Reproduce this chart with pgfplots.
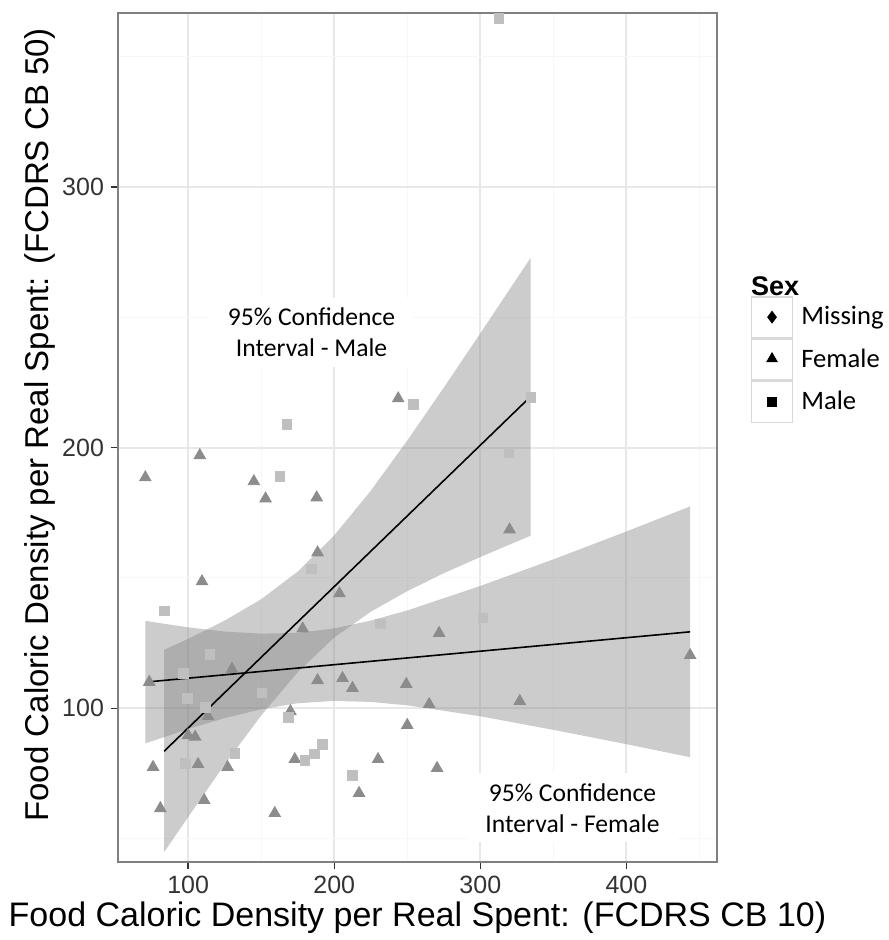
\documentclass[border=0pt]{standalone}
\usepackage{fontspec}
\setmainfont{Liberation Sans}
\newfontfamily\calibri{Carlito}
\usepackage{pgfplots}
\pgfplotsset{compat=1.18}

% female = triangles, male = squares
\pgfplotstableread{
x y
108 197
70.7 188.5
145 187
153 180.4
188 180.8
188.6 159.7
109.5 148.6
203.6 144
178.4 130.5
130 115
73.4 110
188.6 110.7
205.7 111.5
212.5 107.7
113.6 96.9
170 98.8
100 89.6
104.8 89
173 80.4
106.8 78.5
76 77.4
127 77.4
217 67.4
111 64.7
81 61.6
159.3 59.7
243.8 218.8
320 168.5
271.8 128.8
249.3 109.2
265 101.5
327 102.7
250 93.5
230 80.4
270.4 77
443.6 120.3
}\female

\pgfplotstableread{
x y
167.5 208.8
162.7 189
184.5 153.5
83.6 137.4
115 120.7
96.6 113.4
99.3 103.8
150.4 105.8
112 100.4
168.8 96.5
132 82.7
180 80
186.6 82.4
192 86
98 78.9
212.5 74.3
254 216.5
334.5 219.2
319.5 198
231.6 132.4
301.8 134.7
312.7 364.7
}\male

\begin{document}
\begin{tikzpicture}
\begin{axis}[
  name=ax,
  scale only axis,
  width=299.5pt, height=424.5pt,
  xmin=52, xmax=462, ymin=41, ymax=366.7,
  xtick={100,200,300,400}, ytick={100,200,300},
  minor xtick={50,150,250,350,450}, minor ytick={50,150,250,350},
  grid=both,
  major grid style={color=black!9, line width=1pt},
  minor grid style={color=black!3, line width=0.6pt},
  axis line style={color=black!50, line width=1pt},
  tick align=outside, tick pos=left,
  major tick length=3.5pt, minor tick length=0pt,
  tick style={color=black!80, line width=0.7pt},
  /pgf/number format/assume math mode=true,
  ticklabel style={font=\fontsize{12.5}{15}\selectfont, text=black!80},
  xlabel={Food Caloric Density per Real Spent: (FCDRS CB 10)},
  ylabel={Food Caloric Density per Real Spent: (FCDRS CB 50)},
  xlabel style={at={(axis description cs:0.5,-0.066)}, anchor=center,
    font=\fontsize{17}{20}\selectfont},
  ylabel style={at={(axis description cs:-0.1302,0.515)}, anchor=center,
    font=\fontsize{16.5}{20}\selectfont},
  legend style={at={(axis description cs:1.0563,0.6667)}, anchor=north west,
    draw=none, fill=none, inner sep=0pt, outer sep=0pt, row sep=0pt, column sep=4pt,
    nodes={inner sep=0pt}, font=\calibri\fontsize{13.3}{16}\selectfont},
  legend cell align=left,
]
% points (under the bands, so the bands darken them)
\addplot[only marks, mark=triangle*, mark size=3.3pt, color=black!45,
  mark options={draw=black!45, fill=black!45}, forget plot] table {\female};
\addplot[only marks, mark=square*, mark size=2.4pt, color=black!25,
  mark options={draw=black!25, fill=black!25}, forget plot] table {\male};
% confidence bands
\addplot[draw=none, fill=gray, fill opacity=0.4, forget plot] coordinates {
(70.7,133.5) (100,131.0) (125,129.4) (150,128.6) (175,128.9) (200,130.6) (225,133.6)
(250,137.5) (300,146.9) (350,157.1) (400,167.8) (443.6,177.4)
(443.6,81.2) (400,86.2) (350,91.7) (300,96.9) (250,101.1) (225,102.4) (200,102.8)
(175,101.9) (150,99.6) (125,96.2) (100,92.0) (70.7,86.5)};
\addplot[draw=none, fill=gray, fill opacity=0.4, forget plot] coordinates {
(83.6,122.4) (100,126.6) (125,133.6) (150,141.8) (175,152.4) (200,166.3) (225,183.4)
(250,202.7) (275,223.0) (300,243.8) (334.5,272.8)
(334.5,166.2) (300,158.0) (275,151.8) (250,144.9) (225,137.0) (200,127.1)
(175,113.8) (150,97.2) (125,78.4) (100,58.2) (83.6,44.8)};
% fitted lines
\addplot[black, line width=0.8pt, forget plot] coordinates {(83.6,83.5) (334.5,219.6)};
\addplot[black, line width=0.8pt, forget plot] coordinates {(70.7,110.0) (443.6,129.3)};

\node[fill=white, align=center, inner xsep=9pt, inner ysep=5pt,
  font=\calibri\fontsize{12.8}{15.5}\selectfont] at (axis cs:184.5,244.1)
  {95\% Confidence\\Interval - Male};
\node[fill=white, align=center, inner xsep=9pt, inner ysep=5pt,
  font=\calibri\fontsize{12.8}{15.5}\selectfont] at (axis cs:363.1,61.8)
  {95\% Confidence\\Interval - Female};

% legend
\addlegendimage{legend image code/.code={
  \draw[black!15, line width=0.8pt, fill=white] (0pt,-10.2pt) rectangle (20.5pt,10.2pt);
  \draw[black, only marks, mark=diamond*, mark size=2.9pt] plot coordinates {(10.25pt,0pt)};}}
\addlegendentry{Missing}
\addlegendimage{legend image code/.code={
  \draw[black!15, line width=0.8pt, fill=white] (0pt,-10.2pt) rectangle (20.5pt,10.2pt);
  \draw[black, only marks, mark=triangle*, mark size=3pt] plot coordinates {(10.25pt,0.4pt)};}}
\addlegendentry{Female}
\addlegendimage{legend image code/.code={
  \draw[black!15, line width=0.8pt, fill=white] (0pt,-10.2pt) rectangle (20.5pt,10.2pt);
  \draw[black, only marks, mark=square*, mark size=2.1pt] plot coordinates {(10.25pt,0pt)};}}
\addlegendentry{Male}
\end{axis}
\path (ax.south east) ++(16.9pt,283pt) node[anchor=base west, inner sep=0pt,
  font=\bfseries\fontsize{13.5}{16}\selectfont] {Sex};
\pgfresetboundingbox
\path ([shift={(-59pt,-39pt)}]ax.south west) rectangle ([shift={(385pt,431pt)}]ax.south west);
\end{tikzpicture}
\end{document}
